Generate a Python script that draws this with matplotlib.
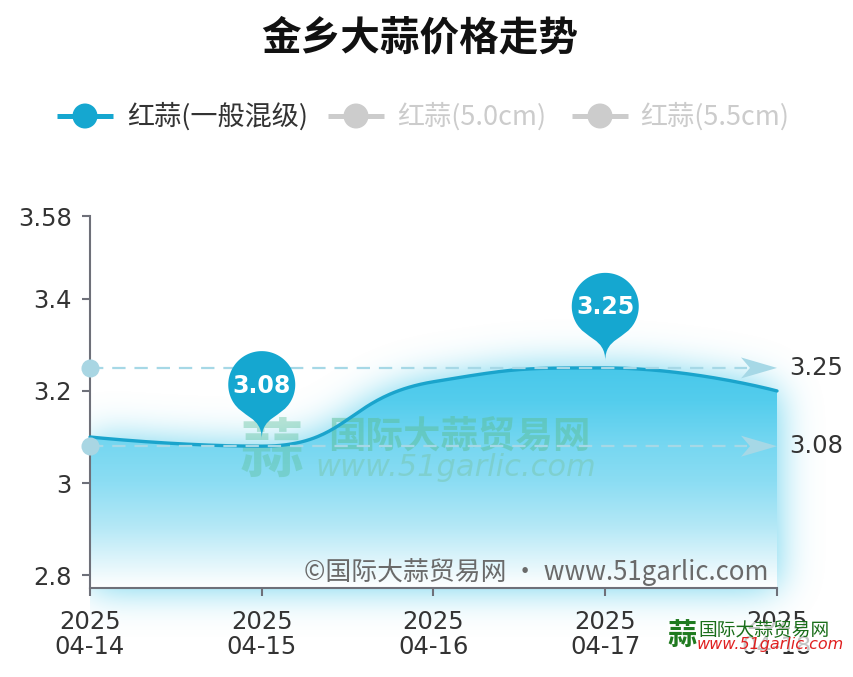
import numpy as np
import matplotlib
matplotlib.use('Agg')
import matplotlib.pyplot as plt
from matplotlib.path import Path
from matplotlib.patches import PathPatch, Circle, Polygon, Rectangle

plt.rcParams['font.family'] = ['DejaVu Sans', 'Noto Sans CJK SC']

# ---------------- data ----------------
title = '金乡大蒜价格走势'
years = ['2025', '2025', '2025', '2025', '2025']
dates = ['04-14', '04-15', '04-16', '04-17', '04-18']
prices = [3.10, 3.08, 3.22, 3.25, 3.20]
legend_names = ['红蒜(一般混级)', '红蒜(5.0cm)', '红蒜(5.5cm)']
y_ticks = [2.8, 3.0, 3.2, 3.4, 3.58]
y_tick_labels = ['2.8', '3', '3.2', '3.4', '3.58']
y_min, y_max = 2.772, 3.58
watermark_cn = '国际大蒜贸易网'
watermark_url = 'www.51garlic.com'
copyright_text = '©国际大蒜贸易网 · www.51garlic.com'

# ---------------- style ----------------
W, H = 854, 677
LINE_C = '#1aa4cc'
PIN_C = '#15a7d0'
MARK_C = '#a6d8e6'
AXIS_C = '#6e7079'
TXT_C = '#333333'
CJK = ['Noto Sans CJK SC', 'DejaVu Sans']

fig = plt.figure(figsize=(W / 100, H / 100), dpi=100)
ax = fig.add_axes([90 / W, (H - 588) / H, (777 - 90) / W, (588 - 216) / H], zorder=2)
ax.patch.set_visible(False)
ax.set_xlim(0, len(dates) - 1)
ax.set_ylim(y_min, y_max)

bg = fig.add_axes([0, 0, 1, 1], zorder=1)
bg.set_xlim(0, W); bg.set_ylim(H, 0); bg.axis('off')
top = fig.add_axes([0, 0, 1, 1], zorder=3)
top.set_xlim(0, W); top.set_ylim(H, 0); top.axis('off')
top.patch.set_visible(False)


def to_px(xs, ys):
    d = ax.transData.transform(np.column_stack([np.atleast_1d(xs), np.atleast_1d(ys)]).astype(float))
    return d[:, 0], H - d[:, 1]


def to_data(px, py):
    d = ax.transData.inverted().transform(np.column_stack([px, H - np.asarray(py)]))
    return d[:, 0], d[:, 1]


# ---------------- ECharts-like smooth curve ----------------
xs = np.arange(len(prices))
PX, PY = to_px(xs, prices)
P = np.column_stack([PX, PY])
smooth = 0.5
curve = []
cp0 = P[0].copy()
for k in range(1, len(P)):
    prev = P[k - 1]
    if k == len(P) - 1:
        cp1 = P[k].copy()
        ncp0 = None
    else:
        nxt = P[k + 1]
        v = nxt - prev
        l0 = np.hypot(*(P[k] - prev))
        l1 = np.hypot(*(nxt - P[k]))
        r = l1 / (l0 + l1)
        ncp0 = P[k] + v * smooth * r
        ncp0 = np.minimum(ncp0, np.maximum(nxt, P[k]))
        ncp0 = np.maximum(ncp0, np.minimum(nxt, P[k]))
        v = ncp0 - P[k]
        cp1 = P[k] - v * l0 / l1
        cp1 = np.minimum(cp1, np.maximum(prev, P[k]))
        cp1 = np.maximum(cp1, np.minimum(prev, P[k]))
        v = P[k] - cp1
        ncp0 = P[k] + v * l1 / l0
    t = np.linspace(0, 1, 80)[:, None]
    seg = ((1 - t) ** 3) * prev + 3 * ((1 - t) ** 2) * t * cp0 + 3 * (1 - t) * t ** 2 * cp1 + t ** 3 * P[k]
    curve.append(seg if k == 1 else seg[1:])
    cp0 = ncp0
curve = np.vstack(curve)
cx, cy = curve[:, 0], curve[:, 1]

# ---------------- area gradient + glow image ----------------
_, ybot_arr = to_px([0], [y_min])
ybot = ybot_arr[0]
x0, x4 = PX[0], PX[-1]
gx = np.arange(W) + 0.5
gy = np.arange(H) + 0.5
GX, GY = np.meshgrid(gx, gy)
cyi = np.interp(gx, cx, cy)
inside = (GX >= x0) & (GX <= x4) & (GY >= cyi[None, :]) & (GY <= ybot)
mask = inside.astype(float)

sig = 19.0
kr = int(3.5 * sig)
kern = np.exp(-0.5 * (np.arange(-kr, kr + 1) / sig) ** 2)
kern /= kern.sum()
blur = np.apply_along_axis(lambda row: np.convolve(row, kern, mode='same'), 1, mask)
blur = np.apply_along_axis(lambda col: np.convolve(col, kern, mode='same'), 0, blur)
blur = np.clip(blur, 0, 1)

ytop = cy.min()
f = np.clip((GY - ytop) / (ybot - ytop), 0, 1)
stops_f = [0.0, 0.15, 0.35, 0.52, 0.72, 0.94, 1.0]
stops_c = np.array([[72, 200, 234], [84, 205, 237], [118, 215, 241], [140, 221, 243],
                    [180, 232, 246], [240, 250, 253], [255, 255, 255]]) / 255.0
grad = np.stack([np.interp(f, stops_f, stops_c[:, i]) for i in range(3)], axis=-1)
glow_c = np.array([76, 202, 234]) / 255.0
a = 0.85 * blur
a[GX < x0] = 0
a[a < 0.004] = 0
glow = 1 - a[..., None] * (1 - glow_c[None, None, :])
img = np.where(inside[..., None], grad, glow)
bg.imshow(img, extent=(0, W, H, 0), interpolation='nearest', aspect='auto', zorder=0)

# ---------------- watermark (centre) ----------------
bg.text(272, 452, '蒜', fontsize=46, color='#5cbf98', alpha=0.4, ha='center', va='center',
        family=CJK, weight='bold', zorder=2)
bg.text(459, 436, watermark_cn, fontsize=27, color='#5cbf98', alpha=0.5, ha='center', va='center',
        family=CJK, weight='bold', zorder=2)
bg.text(456, 468, watermark_url, fontsize=22, color='#78c6ae', alpha=0.5, ha='center', va='center',
        style='italic', zorder=2)

# ---------------- axes styling ----------------
for s in ['top', 'right']:
    ax.spines[s].set_visible(False)
for s in ['left', 'bottom']:
    ax.spines[s].set_color(AXIS_C)
    ax.spines[s].set_linewidth(1.5)
ax.set_yticks(y_ticks)
ax.set_yticklabels(y_tick_labels)
ax.set_xticks(xs)
ax.set_xticklabels([f'{y}\n{d}' for y, d in zip(years, dates)], linespacing=1.05)
ax.tick_params(axis='both', colors=AXIS_C, length=6, width=1.5, labelcolor=TXT_C, labelsize=17.5)
ax.tick_params(axis='y', pad=7)
ax.tick_params(axis='x', pad=10)

# ---------------- line ----------------
lx, ly = to_data(cx, cy)
ax.plot(lx, ly, color=LINE_C, lw=2.4, zorder=4, clip_on=False, solid_capstyle='round')

# ---------------- mark lines ----------------
arrow_len = 36
for v in [max(prices), min(prices)]:
    vx, vy = to_px([len(prices) - 1], [v])
    xend_px = vx[0] - arrow_len + 6
    xe, _ = to_data([xend_px], [vy[0]])
    ax.plot([0, xe[0]], [v, v], color=MARK_C, lw=1.6, dashes=(6, 4), zorder=5, clip_on=False)
    ax.plot([0], [v], 'o', ms=13, color='#a9d6e3', mec='none', zorder=6, clip_on=False)
    yv = vy[0]
    tip = vx[0]
    top.add_patch(Polygon([[tip, yv], [tip - arrow_len, yv - 10.5], [tip - arrow_len + 9, yv],
                           [tip - arrow_len, yv + 10.5]], closed=True, color='#a6d8e6', lw=0, zorder=3))
    top.text(tip + 12, yv, f'{v:.2f}', fontsize=17.5, color=TXT_C, ha='left', va='center')


# ---------------- pins (mark points) ----------------
def pin_path(x, y, r, h):
    dy = r * r / (h - r)
    ccy = y - h + r + dy
    ang = np.arcsin(dy / r)
    dx = np.cos(ang) * r
    tanX, tanY = np.sin(ang), np.cos(ang)
    cpl, cpl2 = r * 0.6, r * 0.7
    th = np.linspace(np.pi - ang, 2 * np.pi + ang, 80)
    arc = np.column_stack([x + r * np.cos(th), ccy + r * np.sin(th)])
    verts = [tuple(p) for p in arc]
    codes = [Path.MOVETO] + [Path.LINETO] * (len(arc) - 1)
    verts += [(x + dx - tanX * cpl, ccy + dy + tanY * cpl), (x, y - cpl2), (x, y)]
    codes += [Path.CURVE4] * 3
    verts += [(x, y - cpl2), (x - dx + tanX * cpl, ccy + dy + tanY * cpl), (x - dx, ccy + dy)]
    codes += [Path.CURVE4] * 3
    verts += [(x - dx, ccy + dy)]
    codes += [Path.CLOSEPOLY]
    return Path(verts, codes), ccy


for idx in [int(np.argmin(prices)), int(np.argmax(prices))]:
    ppx, ppy = to_px([idx], [prices[idx]])
    path, ccy = pin_path(ppx[0], ppy[0] - 7, 33.5, 104)
    top.add_patch(PathPatch(path, facecolor=PIN_C, edgecolor='none', zorder=4))
    top.text(ppx[0], ccy + 1, f'{prices[idx]:.2f}', color='white', fontsize=17, weight='bold',
             ha='center', va='center', zorder=5)

# ---------------- title & legend ----------------
fig.text(420 / W, 1 - 38 / H, title, fontsize=28.5, weight='bold', ha='center', va='center',
         family=CJK, color='#111111')
legend_x = [57, 328, 572]
legend_text_x = [127, 397, 640]
legend_cols = [PIN_C, '#cccccc', '#cccccc']
legend_txt_cols = [TXT_C, '#cccccc', '#cccccc']
for name, lx0, tx0, c, tc in zip(legend_names, legend_x, legend_text_x, legend_cols, legend_txt_cols):
    top.plot([lx0, lx0 + 56], [116, 116], color=c, lw=3.6, solid_capstyle='butt')
    top.add_patch(Circle((lx0 + 28, 116), 12.5, color=c, lw=0, zorder=3))
    top.text(tx0, 117, name, fontsize=19.5, color=tc, ha='left', va='center', family=CJK)

# ---------------- copyright & logo ----------------
top.text(768, 572, copyright_text, fontsize=18.6, color='#6a6a6a', ha='right', va='center', family=CJK)
top.add_patch(Rectangle((667, 622), 172, 29, facecolor='white', edgecolor='none', alpha=0.72, zorder=5))
top.text(682, 636, '蒜', fontsize=21, color='#1f7a1f', ha='center', va='center', family=CJK,
         weight='bold', zorder=6)
top.text(698, 631, watermark_cn, fontsize=13.5, color='#1a6e1a', ha='left', va='center', family=CJK, zorder=6)
top.text(697, 644, watermark_url, fontsize=11.5, color='#e02020', ha='left', va='center', style='italic',
         zorder=6)

fig.savefig('out.png', dpi=100)
